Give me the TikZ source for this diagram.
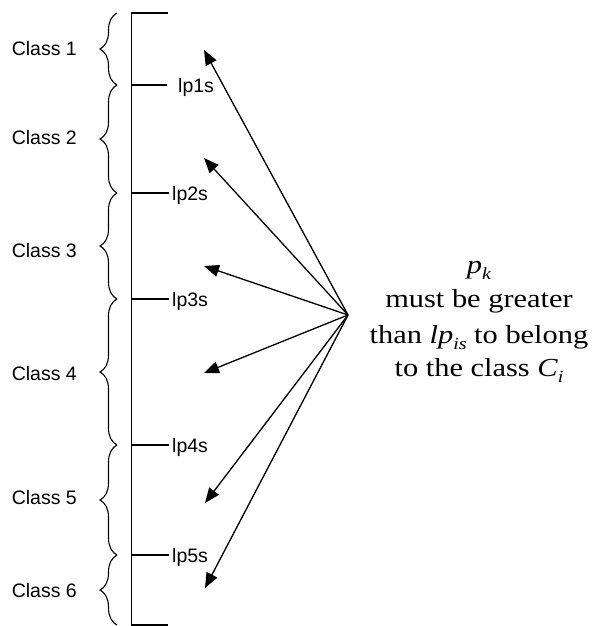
\documentclass[tikz,border=0pt]{standalone}
\usepackage{fontspec}
\setmainfont{Liberation Serif}
\newfontfamily\arialf{Liberation Sans}
\usetikzlibrary{arrows.meta,decorations.pathreplacing}
\tikzset{
  axisline/.style={line width=1.4pt},
  ticks/.style={line width=1.4pt},
  classbrace/.style={decorate,decoration={brace,amplitude=17pt},line width=1.1pt},
  classlbl/.style={font=\arialf\fontsize{19.5}{22}\selectfont,anchor=base east,inner sep=0pt},
  lplbl/.style={font=\arialf\fontsize{19.5}{22}\selectfont,anchor=base west,inner sep=0pt},
  ptr/.style={line width=1.3pt,-{Triangle[length=15pt,width=12pt]}},
  rtext/.style={font=\fontsize{26}{30}\selectfont,anchor=base,inner sep=0pt}
}
\newcommand{\hs}[1]{\scalebox{1.17}[1]{#1}}
\begin{document}
\begin{tikzpicture}[x=1pt,y=-1pt]
\useasboundingbox (0,0) rectangle (592,626);
% axis
\coordinate (top) at (131.5,13);
\coordinate (bot) at (131.5,625);
\coordinate (topE) at (168,13);
\coordinate (botE) at (168,625);
\draw[axisline] (topE) -- (top) -- (bot) -- (botE);
% ticks
\foreach \n/\y/\e in {1/85/167,2/193/169,3/299/169,4/445/169,5/555/169}{
  \coordinate (k\n) at (131.5,\y);
  \coordinate (kE\n) at (\e,\y);
  \draw[ticks] (k\n) -- (kE\n);
}
\node[lplbl] (lp1) at (178,92.5) {lp1s};
\node[lplbl] (lp2) at (172,200.5) {lp2s};
\node[lplbl] (lp3) at (172,306.5) {lp3s};
\node[lplbl] (lp4) at (172,452.5) {lp4s};
\node[lplbl] (lp5) at (172,562.5) {lp5s};
% braces
\foreach \i/\a/\b in {1/13/85,2/85/193,3/193/299,4/299/445,5/445/555,6/555/625}{
  \coordinate (bA\i) at (117,\b);
  \coordinate (bB\i) at (117,\a);
  \draw[classbrace] (bA\i) -- (bB\i);
}
\node[classlbl] (c1) at (77,55.5) {Class 1};
\node[classlbl] (c2) at (77,144.5) {Class 2};
\node[classlbl] (c3) at (77,257.5) {Class 3};
\node[classlbl] (c4) at (77,380.5) {Class 4};
\node[classlbl] (c5) at (77,504.5) {Class 5};
\node[classlbl] (c6) at (77,597.5) {Class 6};
% arrows
\coordinate (o) at (348,315);
\coordinate (t1) at (204,50);
\coordinate (t2) at (204,158);
\coordinate (t3) at (204,266);
\coordinate (t4) at (204,373);
\coordinate (t5) at (205,503);
\coordinate (t6) at (205,588);
\foreach \i in {1,...,6}{ \draw[ptr] (o) -- (t\i); }
% text
\node[rtext] (r1) at (479,273) {\hs{\textit{p}\raisebox{-0.25em}{\fontsize{17}{20}\selectfont\textit{k}}}};
\node[rtext] (r2) at (479,307) {\hs{must be greater}};
\node[rtext] (r3) at (479,343) {\hs{than \textit{lp}\raisebox{-0.25em}{\fontsize{17}{20}\selectfont\textit{is}} to belong}};
\node[rtext] (r4) at (479,376) {\hs{to the class \textit{C}\raisebox{-0.25em}{\fontsize{17}{20}\selectfont\textit{i}}}};
\end{tikzpicture}
\end{document}
